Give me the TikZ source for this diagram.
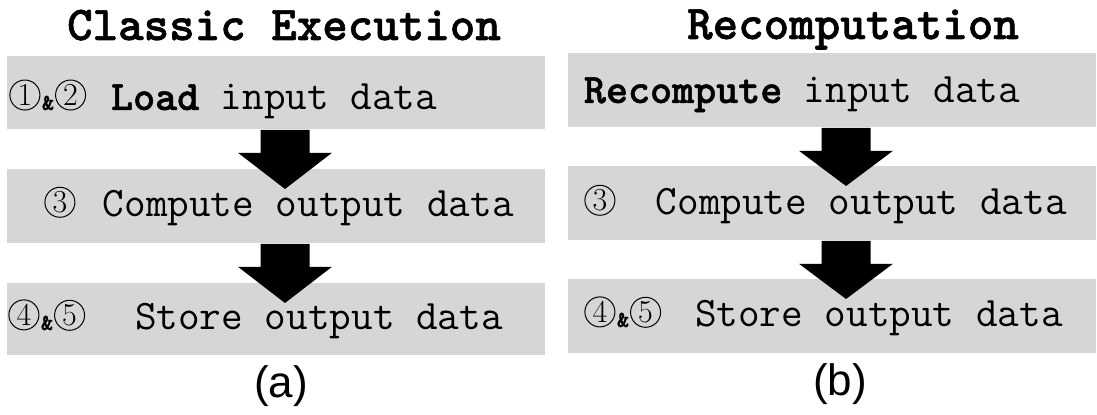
\documentclass[tikz,border=0pt]{standalone}
\usepackage{fontspec}
\newfontfamily\capfont{Liberation Sans}
\newfontfamily\ttheavy{lmmonolt10-bold.otf}[FakeBold=1.2]
\usetikzlibrary{calc}

\definecolor{boxgray}{RGB}{214,214,214}

% circled step number: serif digit inside a thin circle
\newcommand\cnum[1]{\tikz[baseline={([yshift=-2.2pt]cn.base)}]
  \node[circle,draw,line width=0.5pt,inner sep=0pt,minimum size=15pt,
        font=\rmfamily\fontsize{16}{16}\selectfont] (cn) {#1};}
\newcommand\amp{{\ttheavy\fontsize{11.5}{11.5}\selectfont\&}}

% thick block arrow from the bottom of box #1 into the top of box #2, centred at x=#3
\newcommand\blockarrow[3]{%
  \coordinate (ax) at (#3,0);
  \fill[flowarrow] ($(ax |- #1.south)+(-24.5,0)$) -- ++(49,0) -- ++(0,23) -- ++(22.5,0)
    -- ($(ax |- #2.north)+(0,20)$) -- ($(ax |- #1.south)+(-47,23)$) -- ++(22.5,0) -- cycle;}

\tikzset{
  stepbox/.style={fill=boxgray,draw=none,inner sep=0pt,anchor=north west},
  steptext/.style={inner sep=0pt,anchor=base west,font=\ttfamily\fontsize{21}{21}\selectfont},
  paneltitle/.style={inner sep=0pt,anchor=base,font=\ttheavy\fontsize{24.3}{24.3}\selectfont},
  sublabel/.style={inner sep=0pt,anchor=base,font=\capfont\fontsize{22}{22}\selectfont},
  flowarrow/.style={fill=black}
}

\begin{document}
\begin{tikzpicture}[x=0.5pt,y=-0.5pt]
\useasboundingbox (0,0) rectangle (1097,415);

% ---- (a) classic execution ----
\node[paneltitle] (ta) at (284,40) {Classic Execution};
\node[stepbox,minimum width=269pt,minimum height=36.5pt] (L1) at (7,56) {};
\node[stepbox,minimum width=269pt,minimum height=37pt]   (L2) at (7,169) {};
\node[stepbox,minimum width=269pt,minimum height=36pt]   (L3) at (7,283) {};
\blockarrow{L1}{L2}{285}
\blockarrow{L2}{L3}{285}
\node[steptext] (l1) at (9,110) {\cnum{1}\hspace{0.8pt}\amp\hspace{0.5pt}\cnum{2}\hspace{12.5pt}{\ttheavy Load} input data};
\node[steptext] (l2) at (44,217) {\cnum{3}\hspace{13.7pt}Compute output data};
\node[steptext] (l3) at (8,330) {\cnum{4}\hspace{0.8pt}\amp\hspace{0.5pt}\cnum{5}\hspace{25pt}Store output data};
\node[sublabel] (la) at (281,398) {(a)};

% ---- (b) recomputation ----
\node[paneltitle] (tb) at (853,39) {Recomputation};
\node[stepbox,minimum width=264pt,minimum height=37pt] (R1) at (568,53) {};
\node[stepbox,minimum width=264pt,minimum height=37pt] (R2) at (568,166) {};
\node[stepbox,minimum width=264pt,minimum height=37pt] (R3) at (568,279) {};
\blockarrow{R1}{R2}{846}
\blockarrow{R2}{R3}{846}
\node[steptext] (r1) at (583.5,103) {{\ttheavy Recompute} input data};
\node[steptext] (r2) at (584,215) {\cnum{3}\hspace{20.2pt}Compute output data};
\node[steptext] (r3) at (584,327) {\cnum{4}\hspace{0.8pt}\amp\hspace{0.5pt}\cnum{5}\hspace{17pt}Store output data};
\node[sublabel] (lb) at (840,396) {(b)};
\end{tikzpicture}
\end{document}
